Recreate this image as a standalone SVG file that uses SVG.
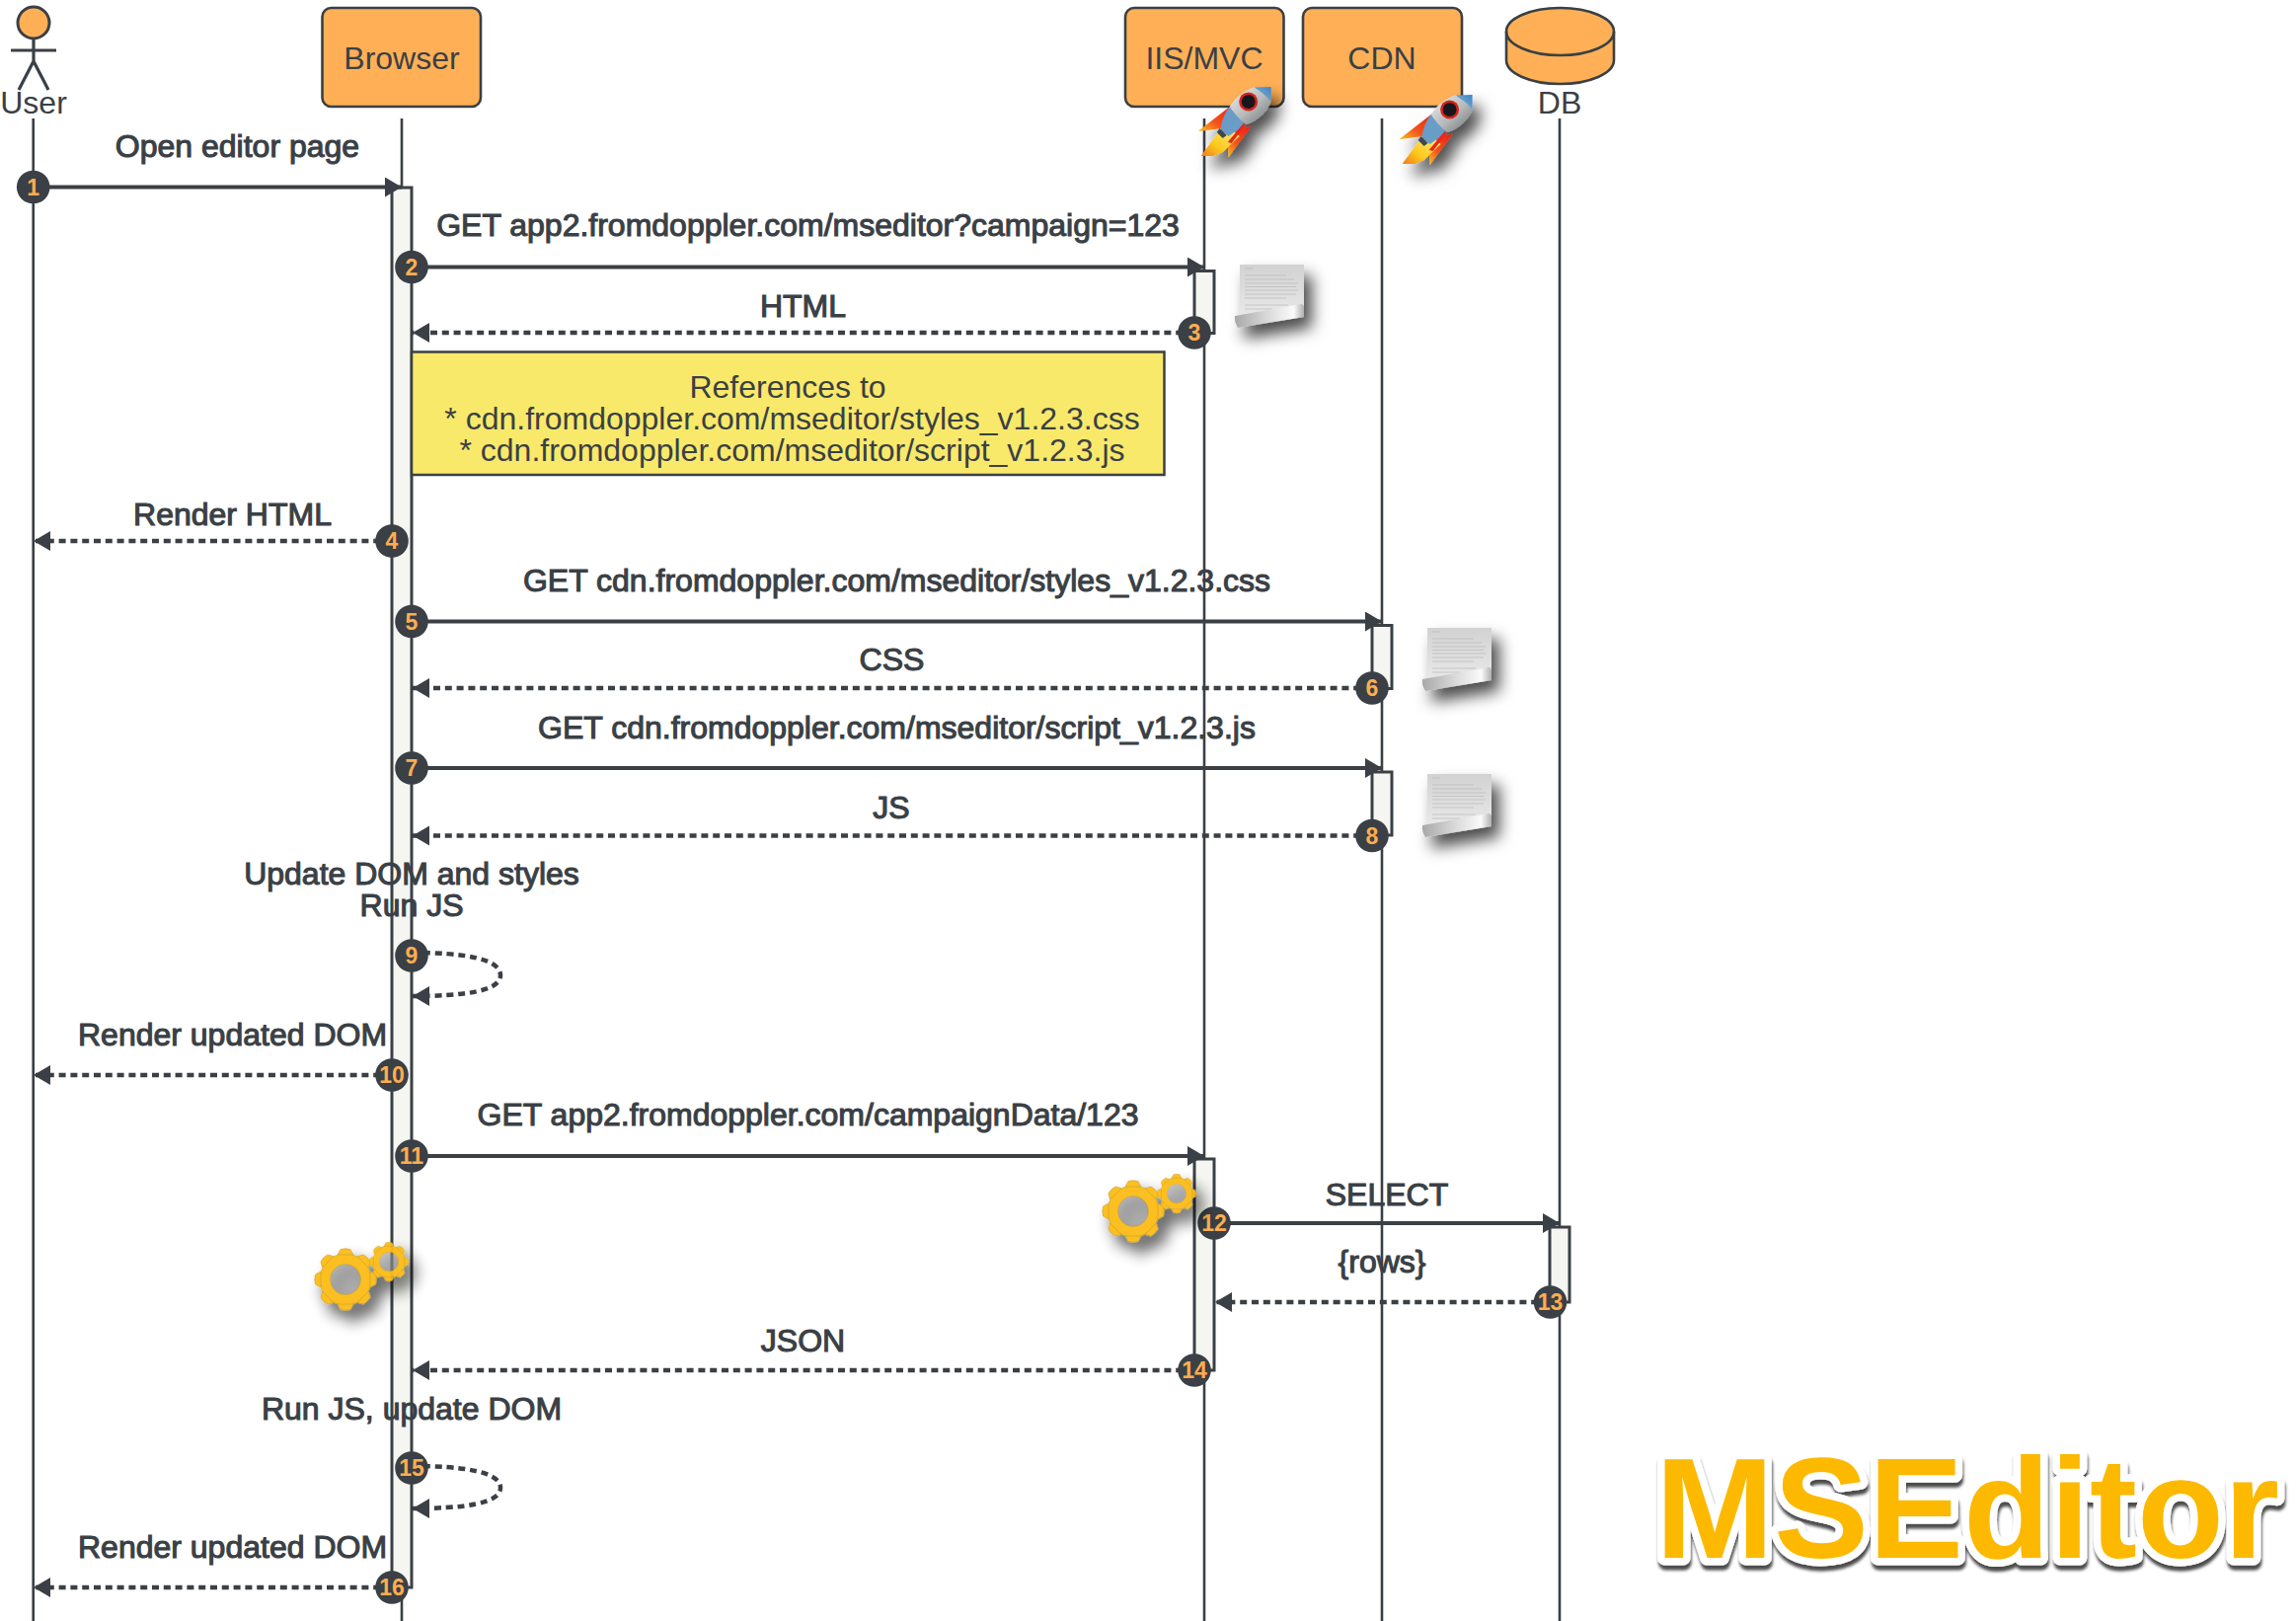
<svg xmlns="http://www.w3.org/2000/svg" width="2326" height="1642" viewBox="0 0 2326 1642">
<style>
text{font-family:"Liberation Sans",Arial,sans-serif;fill:#3a4045;font-size:32px;text-anchor:middle}
.msg{stroke:#3a4045;stroke-width:1.1px}
.box{fill:#ffb057;stroke:#3a4045;stroke-width:2.600}
.life{stroke:#3a4045;stroke-width:2.600;fill:none}
.act{fill:#f5f6f1;stroke:#3a4045;stroke-width:3}
.solid{stroke:#3a4045;stroke-width:4;fill:none;marker-end:url(#head)}
.dash{stroke:#3a4045;stroke-width:4.500;fill:none;stroke-dasharray:7 4.800;marker-end:url(#head)}
.badge circle{fill:#3a4045}
.badge text{fill:#ffad4f;font-weight:bold;font-size:23px}
.gear{fill:#fcbc14;stroke:#c49a2c;stroke-width:.6}
</style>
<defs>
<marker id="head" markerUnits="userSpaceOnUse" markerWidth="18" markerHeight="22" refX="17" refY="10" orient="auto"><path d="M0,0L17,10L0,20Z" fill="#3a4045"/></marker>
<filter id="sh" x="-40%" y="-40%" width="200%" height="200%"><feDropShadow dx="8" dy="11" stdDeviation="8" flood-color="#000" flood-opacity=".7"/></filter>
<filter id="logo" x="-5%" y="-10%" width="110%" height="125%"><feDropShadow dx="1" dy="5" stdDeviation="1.800" flood-color="#000" flood-opacity=".7"/></filter>
<linearGradient id="rb" x1="0" y1="0" x2="1" y2="1"><stop offset="0" stop-color="#f2f3f1"/><stop offset=".55" stop-color="#b4b8b8"/><stop offset="1" stop-color="#6a7074"/></linearGradient>
<linearGradient id="rn" x1="0" y1="1" x2="1" y2="0"><stop offset="0" stop-color="#8fb3d3"/><stop offset="1" stop-color="#3f86c4"/></linearGradient>
<linearGradient id="rf" x1="1" y1="0" x2="0" y2="1"><stop offset="0" stop-color="#e81d12"/><stop offset=".6" stop-color="#f3531b"/><stop offset="1" stop-color="#fbc01e"/></linearGradient>
<linearGradient id="fl" x1="1" y1="0" x2="0" y2="1"><stop offset="0" stop-color="#fff68a"/><stop offset=".65" stop-color="#fcc81d"/><stop offset="1" stop-color="#f0791a"/></linearGradient>
<linearGradient id="pg" x1="0" y1="0" x2="0" y2="1"><stop offset="0" stop-color="#d2d2d2"/><stop offset="1" stop-color="#ebebeb"/></linearGradient>
<linearGradient id="cu" x1="0" y1="0" x2="1" y2="0"><stop offset="0" stop-color="#a8a8a8"/><stop offset=".5" stop-color="#dcdcdc"/><stop offset=".85" stop-color="#fafafa"/><stop offset="1" stop-color="#b0b0b0"/></linearGradient>
<g id="rocket" filter="url(#sh)">
<path d="M36,17L0,45L9,44L24,42Z" fill="url(#rf)"/>
<path d="M54,40L31,71L30,54L42,42Z" fill="url(#rf)"/>
<path d="M27,37L3,70L16,70L25,66L42,50Z" fill="url(#fl)"/>
<path d="M32,20C26,28 23,37 23,44L31,50C37,46 42,42 46,37Z" fill="#6a9cc8"/>
<path d="M32,20C38,10 48,3 58,0L74,14C72,24 60,35 49,38C42,33 37,27 32,20Z" fill="url(#rb)"/>
<path d="M57,.500L74,0L74,15C69,9 63,4 57,.500Z" fill="url(#rn)"/>
<path d="M46,37L30,56L34,57L48,39Z" fill="#e8281a"/>
<path d="M22,42L29,49L25,52L19,46Z" fill="#3d4a50"/>
<circle cx="51" cy="15" r="9.500" fill="#d8231a"/><circle cx="51" cy="15" r="7" fill="#17181a"/>
</g>
<g id="page" filter="url(#sh)">
<path d="M5,0H70V50L5,58Z" fill="url(#pg)"/>
<g stroke="#b4b4b4" stroke-width=".6"><path d="M10,4H18M10,11H52M10,15H60M10,19H64M10,22.500H62M10,26H64M10,30H62M10,34H52M10,41H54M10,45H38"/></g>
<path d="M0,52L67,40Q70,40 70,44V53L3,64Q-1,58 0,52Z" fill="url(#cu)"/>
</g>
<path id="tooth" d="M-8,-25L-5,-30.500Q0,-32 5,-30.500L8,-25Z"/>
<g id="wheel">
<circle r="15.500" fill="#9a9a9a" opacity=".55"/>
<g class="gear">
<path fill-rule="evenodd" d="M-26,0A26,26 0 1 1 26,0A26,26 0 1 1 -26,0ZM-15.500,0A15.500,15.500 0 1 0 15.500,0A15.500,15.500 0 1 0 -15.500,0Z"/>
<use href="#tooth"/><use href="#tooth" transform="rotate(45)"/><use href="#tooth" transform="rotate(90)"/><use href="#tooth" transform="rotate(135)"/><use href="#tooth" transform="rotate(180)"/><use href="#tooth" transform="rotate(225)"/><use href="#tooth" transform="rotate(270)"/><use href="#tooth" transform="rotate(315)"/>
</g>
</g>
<g id="gears" filter="url(#sh)"><use href="#wheel"/><use href="#wheel" transform="translate(44,-18) scale(.63)"/></g>
</defs>
<rect width="2326" height="1642" fill="#fff"/>

<g id="lifelines">
<path class="life" d="M33.700,120V1642M407,120V1642M1220,120V1642M1400,120V1642M1580,120V1642"/>
</g>
<g id="activations">
<rect class="act" x="397" y="190" width="20" height="1418"/>
<rect class="act" x="1210" y="274.500" width="20" height="63"/>
<rect class="act" x="1390" y="633.500" width="20" height="64"/>
<rect class="act" x="1390" y="782" width="20" height="64"/>
<rect class="act" x="1210" y="1174" width="20" height="214"/>
<rect class="act" x="1570" y="1243" width="20" height="76"/>
</g>

<g id="node-user">
<ellipse class="box" style="stroke-width:3" cx="34" cy="23" rx="16" ry="16"/>
<path class="life" style="stroke-width:3.200" d="M34,39V62M11,51H57M34,62L19,91M34,62L49,91"/>
<text x="34" y="115">User</text>
</g>
<g id="node-browser"><rect class="box" x="326.500" y="8" width="160.500" height="100" rx="9"/><text x="407" y="69.500">Browser</text></g>
<g id="node-iis"><rect class="box" x="1140" y="8" width="160.500" height="100" rx="9"/><text x="1220" y="69.500">IIS/MVC</text></g>
<g id="node-cdn"><rect class="box" x="1320" y="8" width="161" height="100" rx="9"/><text x="1400" y="69.500">CDN</text></g>
<g id="node-db">
<path class="box" d="M1526,32A54.500,24 0 0 1 1635,32V61A54.500,24 0 0 1 1526,61Z"/>
<path class="box" style="fill:none" d="M1526,32A54.500,24 0 0 0 1635,32"/>
<text x="1580" y="115">DB</text>
</g>

<g id="note"><rect x="417" y="356.500" width="762.500" height="124.500" fill="#f9e96b" stroke="#3a4045" stroke-width="2.500"/>
<text x="798" y="403">References to</text>
<text x="802.500" y="435">* cdn.fromdoppler.com/mseditor/styles_v1.2.3.css</text>
<text x="802.500" y="467">* cdn.fromdoppler.com/mseditor/script_v1.2.3.js</text>
</g>

<g id="connectors">
<path class="solid" d="M34,189.500H407"/>
<path class="solid" d="M417,270.500H1220"/>
<path class="dash" d="M1210,337H418"/>
<path class="dash" d="M397,548H34"/>
<path class="solid" d="M417,629.500H1400"/>
<path class="dash" d="M1390,697H418"/>
<path class="solid" d="M417,778H1400"/>
<path class="dash" d="M1390,846.500H418"/>
<path class="dash" d="M417,965C470,965 507,971 507,988C507,1004 470,1009 418,1009"/>
<path class="dash" d="M397,1089H34"/>
<path class="solid" d="M417,1171H1220"/>
<path class="solid" d="M1230,1239H1580"/>
<path class="dash" d="M1570,1319H1231"/>
<path class="dash" d="M1210,1388H418"/>
<path class="dash" d="M417,1485C470,1485 507,1491 507,1507C507,1523 470,1528 418,1528"/>
<path class="dash" d="M397,1608H34"/>
</g>

<g id="labels">
<text class="msg" x="240.500" y="159">Open editor page</text>
<text class="msg" x="818.500" y="239">GET app2.fromdoppler.com/mseditor?campaign=123</text>
<text class="msg" x="813.500" y="321">HTML</text>
<text class="msg" x="235.500" y="532">Render HTML</text>
<text class="msg" x="908.500" y="599">GET cdn.fromdoppler.com/mseditor/styles_v1.2.3.css</text>
<text class="msg" x="903.500" y="679">CSS</text>
<text class="msg" x="908.500" y="748">GET cdn.fromdoppler.com/mseditor/script_v1.2.3.js</text>
<text class="msg" x="903" y="829">JS</text>
<text class="msg" x="417" y="896">Update DOM and styles</text>
<text class="msg" x="417" y="928">Run JS</text>
<text class="msg" x="235.500" y="1059">Render updated DOM</text>
<text class="msg" x="818.500" y="1140">GET app2.fromdoppler.com/campaignData/123</text>
<text class="msg" x="1405" y="1221">SELECT</text>
<text class="msg" x="1400" y="1289">{rows}</text>
<text class="msg" x="813.500" y="1369">JSON</text>
<text class="msg" x="417" y="1438">Run JS, update DOM</text>
<text class="msg" x="235.500" y="1578">Render updated DOM</text>
</g>

<g id="badges" class="badge">
<g><circle cx="33.700" cy="189.500" r="16.800"/><text x="33.700" y="197.500">1</text></g>
<g><circle cx="417" cy="270.500" r="16.800"/><text x="417" y="278.500">2</text></g>
<g><circle cx="1210" cy="337" r="16.800"/><text x="1210" y="345">3</text></g>
<g><circle cx="397" cy="548" r="16.800"/><text x="397" y="556">4</text></g>
<g><circle cx="417" cy="629.500" r="16.800"/><text x="417" y="637.500">5</text></g>
<g><circle cx="1390" cy="697" r="16.800"/><text x="1390" y="705">6</text></g>
<g><circle cx="417" cy="778" r="16.800"/><text x="417" y="786">7</text></g>
<g><circle cx="1390" cy="846.500" r="16.800"/><text x="1390" y="854.500">8</text></g>
<g><circle cx="417" cy="968" r="16.800"/><text x="417" y="976">9</text></g>
<g><circle cx="397" cy="1089" r="16.800"/><text x="397" y="1097">10</text></g>
<g><circle cx="417" cy="1171" r="16.800"/><text x="417" y="1179">11</text></g>
<g><circle cx="1230" cy="1239" r="16.800"/><text x="1230" y="1247">12</text></g>
<g><circle cx="1570.500" cy="1319" r="16.800"/><text x="1570.500" y="1327">13</text></g>
<g><circle cx="1210" cy="1388" r="16.800"/><text x="1210" y="1396">14</text></g>
<g><circle cx="417" cy="1487" r="16.800"/><text x="417" y="1495">15</text></g>
<g><circle cx="397" cy="1608" r="16.800"/><text x="397" y="1616">16</text></g>
</g>

<g id="icons">
<use href="#rocket" transform="translate(1213.700,88)"/>
<use href="#rocket" transform="translate(1417.600,96)"/>
<use href="#page" transform="translate(1251,268)"/>
<use href="#page" transform="translate(1441,636)"/>
<use href="#page" transform="translate(1441,784)"/>
<use href="#gears" transform="translate(350,1296)" opacity=".95"/>
<use href="#gears" transform="translate(1148,1227)" opacity=".95"/>
</g>

<g id="title"><text x="1993" y="1578" filter="url(#logo)" style="font-size:144px;font-weight:bold;fill:#fcb900;stroke:#fff;stroke-width:15px;stroke-linejoin:round;paint-order:stroke">MSEditor</text></g>
</svg>
